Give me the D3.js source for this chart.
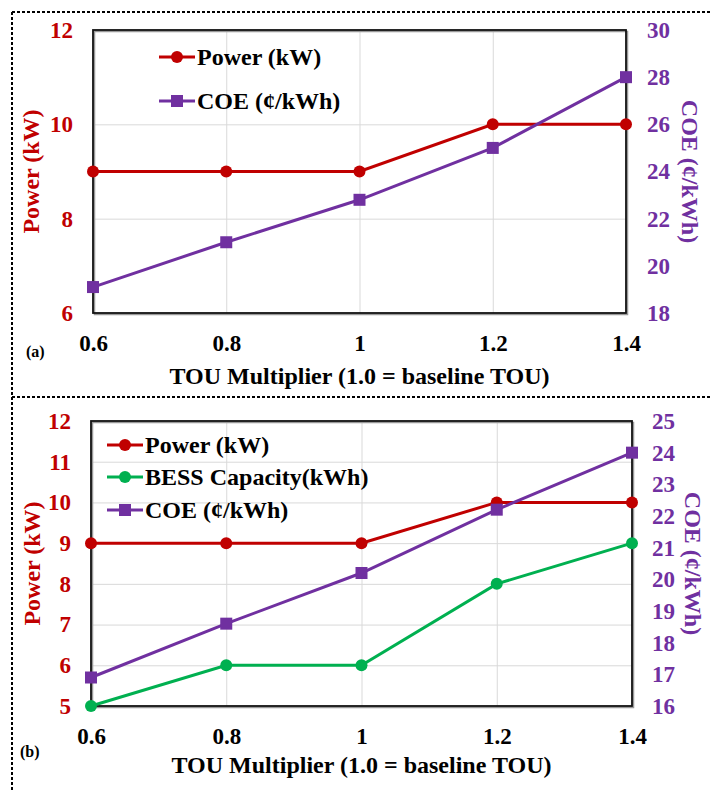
<!DOCTYPE html>
<html>
<head>
<meta charset="utf-8">
<title>TOU multiplier</title>
<script src="https://d3js.org/d3.v7.min.js"></script>
<style>
    body { margin: 0; background: #fff; }
    svg { display: block; font-family: "Liberation Serif", "Times New Roman", serif; font-weight: bold; }
    svg text { font-family: "Liberation Serif", "Times New Roman", serif; font-weight: bold; }
</style>
</head>
<body>
<svg id="chart" width="710" height="790"></svg>
<script>
var tou = [0.6, 0.8, 1.0, 1.2, 1.4];
var xTicks = [0.6, 0.8, 1, 1.2, 1.4];

// panel (a)
var powerA = [9, 9, 9, 10, 10];
var coeA = [19.1, 21, 22.8, 25, 28];
// panel (b)
var powerB = [9, 9, 9, 10, 10];
var bessB = [5, 6, 6, 8, 9];
var coeB = [16.9, 18.6, 20.2, 22.2, 24];

var red = "#C00000", green = "#00B050", purple = "#7030A0";

var svg = d3.select("#chart");

// dashed frames
function dash(x1, y1, x2, y2) {
    svg.append("line").attr("x1", x1).attr("y1", y1).attr("x2", x2).attr("y2", y2)
        .attr("stroke", "#000").attr("stroke-width", 2).attr("stroke-dasharray", "3,2");
}
dash(12, 12, 710, 12);
dash(12, 397, 710, 397);
dash(12, 12, 12, 790);

function panel(opt) {
    var x = d3.scaleLinear().domain([0.6, 1.4]).range([opt.left, opt.right]);
    var yL = d3.scaleLinear().domain(opt.leftDomain).range([opt.bottom, opt.top]);
    var yR = d3.scaleLinear().domain(opt.rightDomain).range([opt.bottom, opt.top]);
    var g = svg.append("g");
    var fmt = d3.format("d");

    // grid
    g.append("g").attr("transform", "translate(" + opt.left + ",0)")
        .call(d3.axisLeft(yL).tickValues(opt.leftTicks).tickSize(-(opt.right - opt.left)).tickFormat(""))
        .call(function (s) { s.select(".domain").remove(); s.selectAll("line").attr("stroke", "#d9d9d9"); });
    g.append("g").attr("transform", "translate(0," + opt.bottom + ")")
        .call(d3.axisBottom(x).tickValues(xTicks).tickSize(-(opt.bottom - opt.top)).tickFormat(""))
        .call(function (s) { s.select(".domain").remove(); s.selectAll("line").attr("stroke", "#d9d9d9"); });

    // frame
    g.append("rect").attr("x", opt.left + 1.5).attr("y", opt.top + 1.5)
        .attr("width", opt.right - opt.left).attr("height", opt.bottom - opt.top)
        .attr("fill", "none").attr("stroke", "#999").attr("stroke-width", 1.5);
    g.append("rect").attr("x", opt.left).attr("y", opt.top)
        .attr("width", opt.right - opt.left).attr("height", opt.bottom - opt.top)
        .attr("fill", "none").attr("stroke", "#111").attr("stroke-width", 1.8);

    // tick labels
    g.append("g").attr("transform", "translate(" + (opt.left - 20) + ",0)")
        .call(d3.axisLeft(yL).tickValues(opt.leftTicks).tickSize(0).tickPadding(0).tickFormat(fmt))
        .call(function (s) {
            s.select(".domain").remove();
            s.selectAll("text").attr("fill", red).attr("font-size", 23);
        });
    g.append("g").attr("transform", "translate(" + (opt.right + opt.rightPad) + ",0)")
        .call(d3.axisRight(yR).tickValues(opt.rightTicks).tickSize(0).tickPadding(0).tickFormat(fmt))
        .call(function (s) {
            s.select(".domain").remove();
            s.selectAll("text").attr("fill", purple).attr("font-size", 23);
        });
    g.append("g").attr("transform", "translate(0," + (opt.bottom + 22) + ")")
        .call(d3.axisBottom(x).tickValues(xTicks).tickSize(0).tickPadding(0)
            .tickFormat(function (d) { return String(d); }))
        .call(function (s) {
            s.select(".domain").remove();
            s.selectAll("text").attr("fill", "#000").attr("font-size", 23);
        });

    // axis titles
    g.append("text").attr("x", (opt.left + opt.right) / 2).attr("y", opt.xTitleY)
        .attr("text-anchor", "middle").attr("font-size", 24).text("TOU Multiplier (1.0 = baseline TOU)");
    g.append("text").attr("transform", "translate(" + opt.leftTitleX + "," + (opt.top + opt.bottom) / 2 + ") rotate(-90)")
        .attr("text-anchor", "middle").attr("dy", "0.35em").attr("fill", red).attr("font-size", 24).text("Power (kW)");
    g.append("text").attr("transform", "translate(" + opt.rightTitleX + "," + (opt.top + opt.bottom) / 2 + ") rotate(90)")
        .attr("text-anchor", "middle").attr("dy", "0.35em").attr("fill", purple).attr("font-size", 24).text("COE (¢/kWh)");
    g.append("text").attr("x", opt.labelX).attr("y", opt.labelY).attr("font-size", 16).text(opt.label);

    // series
    opt.series.forEach(function (s) {
        var y = s.axis === "left" ? yL : yR;
        var line = d3.line().x(function (d, i) { return x(tou[i]); }).y(function (d) { return y(d); });
        g.append("path").datum(s.values).attr("d", line)
            .attr("fill", "none").attr("stroke", s.color).attr("stroke-width", 3);
        var pts = g.selectAll(null).data(s.values).enter();
        if (s.marker === "circle") {
            pts.append("circle").attr("cx", function (d, i) { return x(tou[i]); })
                .attr("cy", function (d) { return y(d); }).attr("r", 6).attr("fill", s.color);
        } else {
            pts.append("rect").attr("x", function (d, i) { return x(tou[i]) - 6; })
                .attr("y", function (d) { return y(d) - 6; }).attr("width", 12).attr("height", 12).attr("fill", s.color);
        }
    });

    // legend
    opt.series.forEach(function (s, i) {
        var ly = opt.legendY[i];
        var lg = g.append("g");
        lg.append("line").attr("x1", opt.legendX).attr("x2", opt.legendX + 36)
            .attr("y1", ly).attr("y2", ly).attr("stroke", s.color).attr("stroke-width", 3);
        if (s.marker === "circle") {
            lg.append("circle").attr("cx", opt.legendX + 18).attr("cy", ly).attr("r", 6).attr("fill", s.color);
        } else {
            lg.append("rect").attr("x", opt.legendX + 12).attr("y", ly - 6).attr("width", 12).attr("height", 12).attr("fill", s.color);
        }
        lg.append("text").attr("x", opt.legendX + 38).attr("y", ly).attr("dy", "0.33em")
            .attr("font-size", 24).attr("fill", "#000").text(s.name);
    });
}

panel({
    left: 93, right: 626, top: 30, bottom: 313,
    leftDomain: [6, 12], leftTicks: [6, 8, 10, 12],
    rightDomain: [18, 30], rightTicks: [18, 20, 22, 24, 26, 28, 30], rightPad: 21,
    xTitleY: 384, leftTitleX: 31, rightTitleX: 690,
    label: "(a)", labelX: 26, labelY: 357,
    legendX: 159, legendY: [57, 101],
    series: [
        { name: "Power (kW)", values: powerA, axis: "left", color: red, marker: "circle" },
        { name: "COE (¢/kWh)", values: coeA, axis: "right", color: purple, marker: "square" }
    ]
});

panel({
    left: 91, right: 632, top: 421, bottom: 706,
    leftDomain: [5, 12], leftTicks: [5, 6, 7, 8, 9, 10, 11, 12],
    rightDomain: [16, 25], rightTicks: [16, 17, 18, 19, 20, 21, 22, 23, 24, 25], rightPad: 20,
    xTitleY: 773, leftTitleX: 32, rightTitleX: 693,
    label: "(b)", labelX: 20, labelY: 757,
    legendX: 107, legendY: [445, 477, 510],
    series: [
        { name: "Power (kW)", values: powerB, axis: "left", color: red, marker: "circle" },
        { name: "BESS Capacity(kWh)", values: bessB, axis: "left", color: green, marker: "circle" },
        { name: "COE (¢/kWh)", values: coeB, axis: "right", color: purple, marker: "square" }
    ]
});
</script>
</body>
</html>
